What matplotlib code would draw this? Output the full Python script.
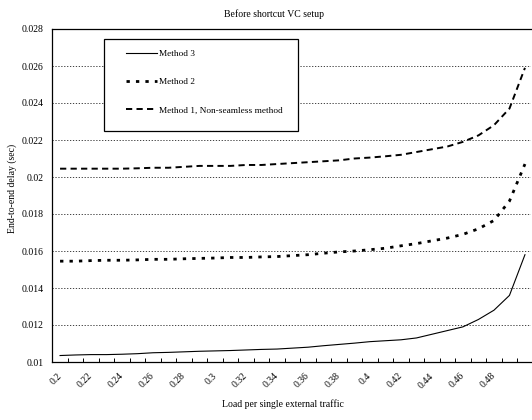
import matplotlib
matplotlib.use("Agg")
import matplotlib.pyplot as plt
from matplotlib.patches import Rectangle
import numpy as np

plt.rcParams['font.family'] = ['Liberation Serif', 'DejaVu Serif']

load = [0.20, 0.21, 0.22, 0.23, 0.24, 0.25, 0.26, 0.27, 0.28, 0.29,
        0.30, 0.31, 0.32, 0.33, 0.34, 0.35, 0.36, 0.37, 0.38, 0.39,
        0.40, 0.41, 0.42, 0.43, 0.44, 0.45, 0.46, 0.47, 0.48, 0.49, 0.50]

method3 = [0.01035, 0.01038, 0.01040, 0.01040, 0.01042, 0.01045, 0.01050, 0.01052,
           0.01055, 0.01058, 0.01060, 0.01062, 0.01065, 0.01068, 0.01070, 0.01075,
           0.01080, 0.01088, 0.01095, 0.01102, 0.01110, 0.01115, 0.01120, 0.01130,
           0.01150, 0.01170, 0.01190, 0.01230, 0.01280, 0.01360, 0.01580]

method2 = [0.01545, 0.01545, 0.01548, 0.01550, 0.01550, 0.01552, 0.01555, 0.01555,
           0.01558, 0.01560, 0.01562, 0.01565, 0.01565, 0.01568, 0.01570, 0.01575,
           0.01580, 0.01588, 0.01595, 0.01600, 0.01607, 0.01615, 0.01628, 0.01640,
           0.01655, 0.01670, 0.01690, 0.01720, 0.01765, 0.01870, 0.02070]

method1 = [0.02045, 0.02045, 0.02045, 0.02045, 0.02045, 0.02047, 0.02050, 0.02050,
           0.02055, 0.02060, 0.02060, 0.02060, 0.02065, 0.02065, 0.02070, 0.02075,
           0.02080, 0.02085, 0.02090, 0.02100, 0.02105, 0.02112, 0.02120, 0.02135,
           0.02150, 0.02165, 0.02190, 0.02225, 0.02280, 0.02370, 0.02590]

labels = ["Method 3", "Method 2", "Method 1, Non-seamless method"]
title = "Before shortcut VC setup"
xlabel = "Load per single external traffic"
ylabel = "End-to-end delay (sec)"

W, H = 532, 420
fig = plt.figure(figsize=(W / 100, H / 100), dpi=100)
ax = fig.add_axes([52 / W, 1 - 362 / H, (531 - 52) / W, (362 - 29) / H])

l3, = ax.plot(load, method3, color='black', lw=0.8, linestyle='-')
l2, = ax.plot(load, method2, color='black', lw=2.0, linestyle=(0, (1.2, 2.2)))
l1, = ax.plot(load, method1, color='black', lw=1.4, linestyle=(0, (3.2, 2.2)))

ax.set_xlim(0.1948, 0.5039)
ax.set_ylim(0.01, 0.028)

yt = np.arange(0.010, 0.0281, 0.002)
ax.set_yticks(yt)
ax.set_yticklabels([f"{v:g}" for v in yt], fontsize=7)
ax.tick_params(axis='y', length=0, pad=6)

xt = load[0:29:2]
ax.set_xticks(xt)
ax.set_xticklabels([f"{v:g}" for v in xt], fontsize=7, rotation=45,
                   ha='right', va='center', rotation_mode='anchor')
ax.tick_params(axis='x', which='major', length=0, pad=9)
ax.set_xticks([0.195 + 0.01 * k for k in range(31)], minor=True)
ax.tick_params(axis='x', which='minor', direction='in', length=3, width=0.7)

ax.yaxis.grid(True, linestyle=(0, (1.5, 2.0)), color='#222222', lw=0.6)
ax.set_axisbelow(True)
for s in ['left', 'bottom', 'top']:
    ax.spines[s].set_linewidth(0.9)
ax.spines['right'].set_visible(False)

fig.text(274 / W, 1 - 14 / H, title, ha='center', va='center', fontsize=7)
fig.text(283 / W, 1 - 404 / H, xlabel, ha='center', va='center', fontsize=7)
fig.text(12 / W, 1 - 188 / H, ylabel, ha='center', va='center', fontsize=7, rotation=90)

# legend box
rect = Rectangle((104 / W, 1 - 131 / H), (298 - 104) / W, (131 - 39) / H,
                 transform=fig.transFigure, facecolor='white', edgecolor='black',
                 lw=0.9, zorder=5)
fig.patches.append(rect)
leg = fig.legend([l3, l2, l1], labels, loc='upper left',
                 bbox_to_anchor=(122 / W, 1 - 46 / H), frameon=False,
                 fontsize=6.7, handlelength=3.4, handletextpad=0.15,
                 labelspacing=2.1, borderaxespad=0)
leg.set_zorder(6)

fig.savefig("out.png", dpi=100)
